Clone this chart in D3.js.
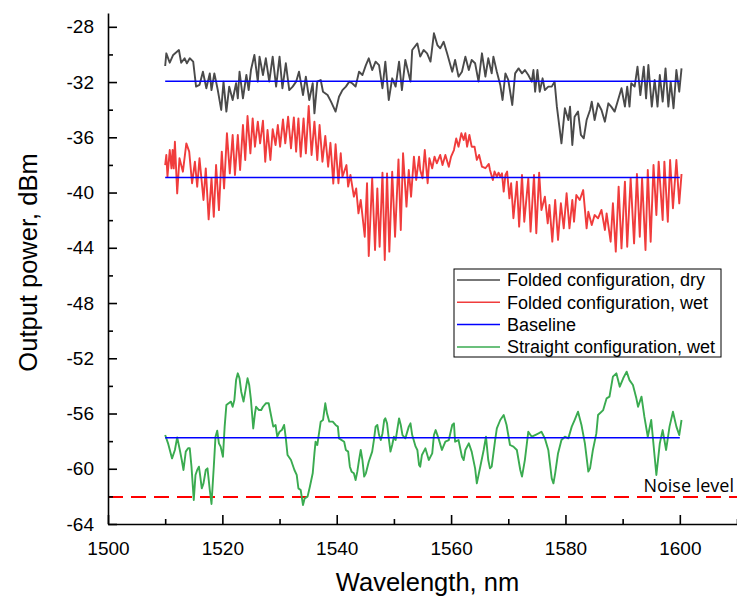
<!DOCTYPE html>
<html>
<head>
<meta charset="utf-8">
<script src="https://cdn.jsdelivr.net/npm/d3@7"></script>
<style>
  body { margin: 0; background: #fff; }
  svg { display: block; font-family: "Liberation Sans", Arial, sans-serif; }
  .axis path, .axis line { stroke: #000; stroke-width: 1.6; }
  .axis text { font-size: 19px; fill: #000; font-family: "Liberation Sans", Arial, sans-serif; }
  .axis-label { font-size: 25.5px; fill: #000; }
  .legend text { font-size: 18px; fill: #000; }
</style>
</head>
<body>
<svg id="chart"></svg>
<script>
// wavelength (nm), output power (dBm)
const foldedDry = [
  [1510.0,-30.84],[1510.2,-29.92],[1510.8,-30.60],[1511.4,-30.04],[1512.4,-29.68],[1512.8,-30.60],[1513.4,-30.28],[1513.8,-30.64],
  [1514.3,-30.28],[1514.9,-30.52],[1515.4,-32.33],[1516.0,-32.21],[1516.6,-31.25],[1517.2,-32.45],[1517.8,-31.37],[1518.1,-32.58],
  [1518.6,-31.37],[1519.2,-32.58],[1519.8,-34.02],[1520.2,-31.97],[1520.7,-34.14],[1521.2,-32.33],[1521.8,-33.30],[1522.4,-32.09],
  [1522.7,-33.18],[1523.0,-31.25],[1523.6,-33.18],[1524.2,-31.49],[1524.6,-32.58],[1525.0,-31.13],[1525.6,-30.04],[1526.2,-31.97],
  [1526.5,-30.16],[1527.1,-31.49],[1527.6,-30.28],[1528.2,-31.97],[1528.8,-30.16],[1529.4,-32.33],[1530.0,-30.16],[1530.5,-32.45],
  [1531.1,-30.64],[1531.7,-32.58],[1532.3,-32.33],[1532.9,-31.97],[1533.4,-31.25],[1534.1,-32.94],[1534.6,-31.61],[1535.2,-33.30],
  [1535.8,-32.09],[1536.1,-34.27],[1536.6,-31.97],[1537.2,-31.85],[1537.6,-32.70],[1538.4,-32.94],[1539.0,-33.42],[1539.8,-34.14],
  [1540.4,-33.06],[1541.0,-32.58],[1541.6,-32.33],[1542.2,-31.97],[1542.7,-32.09],[1543.3,-32.33],[1543.9,-31.25],[1544.5,-31.49],
  [1545.1,-30.77],[1545.6,-30.28],[1546.2,-31.13],[1546.8,-30.52],[1547.4,-30.77],[1548.0,-32.45],[1548.5,-30.52],[1549.1,-33.30],
  [1549.7,-31.73],[1550.3,-32.33],[1550.9,-30.52],[1551.4,-32.58],[1552.0,-30.40],[1552.9,-31.97],[1553.2,-29.68],[1554.1,-29.20],
  [1554.6,-30.16],[1555.2,-29.68],[1555.8,-29.92],[1556.4,-30.52],[1557.0,-28.47],[1557.6,-29.32],[1558.1,-29.56],[1558.7,-29.08],
  [1559.3,-29.92],[1560.2,-31.25],[1560.7,-30.40],[1561.3,-31.61],[1561.9,-31.25],[1562.5,-30.16],[1563.1,-31.13],[1563.6,-30.40],
  [1564.2,-30.64],[1564.8,-31.97],[1565.4,-29.92],[1566.0,-31.61],[1566.5,-30.28],[1567.1,-31.37],[1567.4,-30.16],[1568.0,-31.25],
  [1568.6,-32.21],[1569.0,-33.30],[1569.5,-31.37],[1570.0,-31.85],[1570.7,-33.66],[1571.2,-31.37],[1571.8,-31.01],[1572.4,-31.37],
  [1572.9,-31.13],[1573.5,-31.49],[1574.1,-31.97],[1574.4,-31.13],[1574.7,-32.70],[1575.1,-31.13],[1575.5,-32.70],[1576.0,-31.73],
  [1576.4,-32.58],[1577.0,-32.33],[1577.6,-32.33],[1578.1,-31.97],[1578.5,-33.78],[1579.3,-36.44],[1579.9,-33.90],[1580.5,-34.75],
  [1580.8,-33.78],[1581.2,-36.56],[1581.6,-34.51],[1582.2,-34.14],[1582.7,-35.83],[1583.2,-36.07],[1583.7,-34.75],[1584.3,-34.02],
  [1584.6,-33.42],[1585.1,-34.75],[1585.7,-33.54],[1586.3,-34.02],[1586.9,-34.87],[1587.5,-33.54],[1588.0,-33.78],[1588.6,-34.14],
  [1589.2,-33.30],[1589.8,-32.45],[1590.4,-33.78],[1590.8,-32.33],[1591.2,-33.78],[1591.5,-32.09],[1592.1,-32.33],[1592.6,-30.89],
  [1593.1,-32.94],[1593.7,-30.89],[1594.1,-33.18],[1594.5,-30.77],[1595.1,-33.78],[1595.6,-31.85],[1596.1,-33.78],[1596.5,-31.49],
  [1597.0,-33.42],[1597.5,-31.01],[1598.0,-33.78],[1598.4,-31.97],[1598.9,-33.90],[1599.4,-31.13],[1599.9,-32.70],[1600.3,-31.01]
]
const foldedWet = [
  [1510.0,-38.01],[1510.2,-37.28],[1510.4,-38.85],[1510.8,-36.92],[1511.1,-38.25],[1511.3,-36.92],[1511.5,-38.25],[1511.7,-36.32],
  [1512.1,-40.06],[1512.5,-37.52],[1513.1,-38.49],[1513.7,-36.44],[1514.2,-37.04],[1514.7,-39.33],[1515.2,-37.77],[1515.6,-39.58],
  [1516.0,-37.52],[1516.7,-40.54],[1517.1,-38.25],[1517.6,-41.94],[1518.1,-38.97],[1518.5,-41.75],[1518.9,-38.01],[1519.4,-41.27],
  [1519.9,-37.04],[1520.3,-39.70],[1520.8,-35.71],[1521.3,-38.61],[1521.8,-35.83],[1522.2,-38.73],[1522.7,-35.83],[1523.1,-38.37],
  [1523.6,-35.11],[1524.0,-37.64],[1524.4,-34.46],[1524.9,-37.16],[1525.3,-34.63],[1525.7,-36.68],[1526.2,-34.87],[1526.6,-36.44],
  [1527.1,-34.80],[1527.5,-37.77],[1527.9,-35.47],[1528.4,-37.64],[1528.8,-35.42],[1529.3,-36.56],[1529.7,-35.11],[1530.1,-36.68],
  [1530.6,-34.70],[1531.0,-36.44],[1531.5,-34.51],[1532.0,-36.80],[1532.5,-34.56],[1532.9,-37.04],[1533.3,-34.63],[1533.7,-37.40],
  [1534.2,-34.63],[1534.6,-37.16],[1535.1,-33.73],[1535.6,-37.28],[1536.1,-34.87],[1536.6,-37.64],[1537.0,-35.11],[1537.5,-37.77],
  [1538.0,-35.90],[1538.5,-38.13],[1538.9,-36.40],[1539.4,-39.35],[1539.8,-36.50],[1540.3,-39.33],[1540.7,-37.16],[1541.0,-38.85],
  [1541.7,-38.01],[1542.0,-39.57],[1542.4,-38.73],[1543.0,-40.30],[1543.4,-39.70],[1543.8,-41.51],[1544.2,-40.54],[1544.9,-43.20],
  [1545.3,-39.33],[1545.6,-44.60],[1546.2,-38.97],[1546.7,-44.16],[1547.1,-39.70],[1547.5,-43.92],[1548.0,-38.56],[1548.4,-44.89],
  [1548.8,-38.61],[1549.2,-44.28],[1549.7,-38.49],[1550.2,-43.20],[1550.8,-37.60],[1551.2,-42.71],[1551.6,-37.16],[1552.2,-41.02],
  [1552.6,-38.37],[1553.0,-40.30],[1553.5,-37.40],[1553.9,-39.09],[1554.4,-37.40],[1554.6,-38.37],[1555.0,-38.97],[1555.4,-36.92],
  [1555.9,-39.33],[1556.2,-37.52],[1556.7,-38.25],[1557.1,-37.40],[1557.5,-37.88],[1558.1,-37.28],[1558.5,-38.01],[1559.0,-37.28],
  [1559.6,-38.13],[1560.0,-37.40],[1560.5,-36.92],[1560.9,-36.08],[1561.3,-36.68],[1561.8,-35.71],[1562.2,-36.20],[1562.5,-35.71],
  [1562.8,-36.68],[1563.2,-35.83],[1563.6,-36.68],[1564.1,-36.68],[1564.5,-37.64],[1564.9,-37.28],[1565.4,-38.13],[1566.0,-38.24],
  [1566.6,-37.93],[1566.8,-38.36],[1567.3,-39.09],[1567.6,-38.48],[1568.0,-38.85],[1568.3,-38.56],[1568.6,-38.85],[1568.9,-38.61],
  [1569.2,-39.93],[1569.5,-38.73],[1569.8,-38.48],[1570.2,-40.42],[1570.5,-39.33],[1570.9,-41.86],[1571.5,-39.21],[1571.9,-42.47],
  [1572.4,-38.73],[1572.8,-42.11],[1573.5,-38.97],[1573.9,-42.83],[1574.5,-38.73],[1574.9,-42.95],[1575.4,-38.56],[1575.8,-41.26],
  [1576.4,-40.30],[1576.9,-42.23],[1577.2,-40.90],[1577.7,-43.55],[1578.2,-40.54],[1578.7,-43.43],[1579.2,-40.78],[1579.7,-42.59],
  [1580.2,-40.05],[1580.7,-42.59],[1581.2,-40.54],[1581.5,-42.11],[1581.9,-40.18],[1582.5,-40.54],[1583.1,-39.82],[1583.7,-42.59],
  [1584.0,-41.39],[1584.6,-42.35],[1585.1,-41.63],[1585.7,-41.87],[1586.3,-41.26],[1586.9,-42.71],[1587.2,-41.51],[1587.9,-43.56],
  [1588.3,-40.78],[1588.8,-44.28],[1589.3,-39.57],[1589.8,-44.04],[1590.4,-39.21],[1590.8,-43.92],[1591.4,-38.97],[1592.0,-43.68],
  [1592.5,-38.66],[1593.0,-43.20],[1593.4,-38.97],[1594.0,-44.16],[1594.4,-38.37],[1594.9,-43.56],[1595.4,-38.01],[1595.9,-41.63],
  [1596.3,-37.76],[1597.0,-41.99],[1597.3,-37.76],[1597.9,-42.11],[1598.3,-37.64],[1598.8,-41.14],[1599.4,-37.64],[1599.9,-40.78],
  [1600.3,-38.66]
]
const straightWet = [
  [1510.0,-57.56],[1510.5,-58.16],[1511.2,-59.25],[1511.7,-58.64],[1512.1,-57.73],[1512.5,-58.52],[1512.9,-59.37],[1513.2,-60.09],
  [1513.6,-58.76],[1514.0,-58.52],[1514.3,-58.52],[1514.6,-59.85],[1515.0,-62.26],[1515.3,-60.45],[1515.6,-60.09],[1515.9,-59.85],
  [1516.1,-60.45],[1516.4,-61.42],[1516.7,-61.06],[1517.1,-60.09],[1517.4,-59.97],[1517.8,-61.54],[1518.1,-62.55],[1518.5,-59.85],
  [1518.8,-57.68],[1519.1,-57.24],[1519.4,-58.16],[1519.7,-58.40],[1520.1,-59.13],[1520.4,-56.95],[1520.7,-55.39],[1521.1,-55.26],
  [1521.5,-55.14],[1521.8,-55.51],[1522.1,-55.02],[1522.4,-53.58],[1522.7,-53.09],[1523.0,-53.45],[1523.3,-54.42],[1523.7,-55.14],
  [1524.2,-53.94],[1524.4,-53.45],[1524.7,-53.94],[1525.0,-55.02],[1525.4,-57.08],[1525.7,-55.99],[1525.9,-55.51],[1526.4,-55.75],
  [1526.8,-55.75],[1527.1,-55.51],[1527.6,-55.26],[1528.1,-55.26],[1528.5,-56.11],[1528.9,-56.95],[1529.3,-56.83],[1529.6,-57.68],
  [1530.0,-57.32],[1530.4,-57.20],[1530.8,-56.83],[1531.1,-57.80],[1531.4,-59.01],[1532.0,-59.37],[1532.6,-60.09],[1533.0,-60.45],
  [1533.3,-61.42],[1533.7,-61.54],[1534.1,-62.63],[1534.4,-62.14],[1534.9,-62.02],[1535.3,-61.30],[1535.8,-60.33],[1536.1,-58.89],
  [1536.3,-58.04],[1536.6,-58.28],[1536.9,-57.44],[1537.2,-56.59],[1537.6,-56.47],[1538.0,-55.26],[1538.3,-55.99],[1538.7,-56.59],
  [1539.3,-56.59],[1539.8,-56.83],[1540.2,-56.95],[1540.4,-57.80],[1541.3,-58.04],[1541.6,-58.64],[1542.0,-58.76],[1542.3,-59.85],
  [1542.6,-60.21],[1543.0,-60.33],[1543.3,-60.82],[1543.6,-60.21],[1543.9,-59.37],[1544.2,-58.64],[1544.5,-59.37],[1544.8,-60.57],
  [1545.1,-60.33],[1545.6,-59.49],[1546.2,-58.76],[1546.5,-57.92],[1546.8,-56.95],[1547.1,-56.83],[1547.4,-57.56],[1547.7,-57.92],
  [1548.0,-57.44],[1548.3,-56.47],[1548.5,-56.35],[1548.8,-56.71],[1549.1,-57.80],[1549.4,-58.76],[1549.7,-58.28],[1550.0,-57.68],
  [1550.3,-57.92],[1550.9,-56.35],[1551.2,-56.83],[1551.5,-57.56],[1552.0,-57.80],[1552.6,-56.95],[1552.9,-56.71],[1553.2,-57.56],
  [1553.8,-58.40],[1554.1,-58.64],[1554.4,-59.73],[1554.6,-59.85],[1554.9,-59.00],[1555.5,-58.52],[1556.1,-59.37],[1556.7,-58.89],
  [1557.0,-57.56],[1557.3,-57.20],[1557.8,-57.80],[1558.4,-58.64],[1559.0,-58.04],[1559.6,-57.92],[1560.2,-56.83],[1560.5,-56.71],
  [1560.7,-58.04],[1561.3,-57.92],[1561.9,-59.13],[1562.2,-59.37],[1562.5,-58.64],[1563.1,-58.16],[1563.6,-58.76],[1564.2,-59.97],
  [1564.5,-61.06],[1565.1,-59.85],[1565.7,-58.64],[1566.1,-57.68],[1566.5,-59.37],[1566.8,-59.97],[1567.1,-59.85],[1567.7,-57.92],
  [1568.0,-57.08],[1568.6,-56.47],[1569.2,-56.11],[1569.7,-56.83],[1570.3,-58.28],[1570.9,-58.40],[1571.5,-58.64],[1572.1,-60.09],
  [1572.4,-60.57],[1572.9,-59.37],[1573.5,-57.32],[1574.1,-57.68],[1574.7,-57.56],[1575.3,-57.44],[1575.8,-57.32],[1576.4,-57.80],
  [1577.0,-58.64],[1577.6,-60.70],[1577.9,-61.06],[1578.2,-60.33],[1578.7,-58.89],[1579.3,-57.92],[1579.9,-57.68],[1580.5,-57.80],
  [1581.1,-56.95],[1581.6,-56.47],[1582.2,-55.87],[1582.8,-56.83],[1583.4,-58.16],[1584.0,-60.21],[1584.3,-59.97],[1584.8,-58.64],
  [1585.4,-57.44],[1585.7,-56.11],[1586.6,-55.75],[1587.2,-54.90],[1587.7,-54.78],[1588.3,-53.33],[1588.9,-53.09],[1589.5,-54.06],
  [1590.1,-53.45],[1590.7,-52.97],[1591.2,-53.58],[1591.8,-53.94],[1592.4,-54.90],[1592.7,-55.51],[1593.3,-54.78],[1593.8,-56.23],
  [1594.4,-57.68],[1595.0,-56.47],[1595.6,-59.13],[1595.9,-60.45],[1596.5,-58.16],[1597.0,-57.20],[1597.6,-58.64],[1598.2,-56.95],
  [1598.8,-55.87],[1599.4,-56.95],[1599.9,-57.56],[1600.3,-56.47]
]
// horizontal reference levels, dBm
const baselineLevels = [-31.95, -38.92, -57.75]
const baselineSpan = [1510, 1600]
const noiseLevel = -62.05

const xTicks = d3.range(1500, 1601, 20)
const xMinorTicks = d3.range(1510, 1611, 20)
const yTicks = d3.range(-64, -27, 4)
const yMinorTicks = d3.range(-62, -28, 4)

const legendItems = [
  { label: 'Folded configuration, dry', color: '#4a4a4a' },
  { label: 'Folded configuration, wet', color: '#f03c3c' },
  { label: 'Baseline', color: '#0000ff' },
  { label: 'Straight configuration, wet', color: '#3aab50' }
]

const width = 737
    , height = 597
    , plotLeft = 108
    , plotRight = 737
    , plotTop = 13
    , plotBottom = 524
    , scaleX = d3.scaleLinear().domain([1500, 1610]).range([plotLeft, plotRight])
    , scaleY = d3.scaleLinear().domain([-64, -27]).range([plotBottom, plotTop])
    , line = d3.line().x(d => scaleX(d[0])).y(d => scaleY(d[1]))

const svg = d3.select('#chart').attr('width', width).attr('height', height)

// noise level
svg.append('line')
    .attr('x1', plotLeft).attr('x2', plotRight)
    .attr('y1', scaleY(noiseLevel)).attr('y2', scaleY(noiseLevel))
    .attr('stroke', '#ff0000').attr('stroke-width', 2)
    .attr('stroke-dasharray', '15,8')
svg.append('text')
    .attr('x', 734).attr('y', scaleY(noiseLevel) - 5)
    .attr('text-anchor', 'end')
    .style('font-family', '"Open Sans", sans-serif')
    .style('font-size', '18px')
    .text('Noise level')

// series
const series = [foldedDry, foldedWet, straightWet]
const seriesColors = [legendItems[0].color, legendItems[1].color, legendItems[3].color]
series.forEach((s, i) => {
    svg.append('path')
        .datum(s)
        .attr('d', line)
        .attr('fill', 'none')
        .attr('stroke', seriesColors[i])
        .attr('stroke-width', 1.9)
        .attr('stroke-linejoin', 'round')
})

// baselines
svg.selectAll('line.baseline')
    .data(baselineLevels)
    .join('line')
    .attr('class', 'baseline')
    .attr('x1', scaleX(baselineSpan[0])).attr('x2', scaleX(baselineSpan[1]))
    .attr('y1', scaleY).attr('y2', scaleY)
    .attr('stroke', '#0000ff').attr('stroke-width', 1.5)

// axes
svg.append('g')
    .attr('class', 'axis x')
    .attr('transform', `translate(0,${plotBottom})`)
    .call(d3.axisBottom(scaleX).tickValues(xTicks).tickSize(-9).tickSizeOuter(0).tickPadding(18).tickFormat(d3.format('d')))
svg.append('g')
    .attr('class', 'axis x minor')
    .attr('transform', `translate(0,${plotBottom})`)
    .call(d3.axisBottom(scaleX).tickValues(xMinorTicks).tickSize(-5).tickFormat(''))
    .call(g => g.select('.domain').remove())
svg.append('g')
    .attr('class', 'axis y')
    .attr('transform', `translate(${plotLeft},0)`)
    .call(d3.axisLeft(scaleY).tickValues(yTicks).tickSize(-9).tickSizeOuter(0).tickPadding(14).tickFormat(d => String(d)))
svg.append('g')
    .attr('class', 'axis y minor')
    .attr('transform', `translate(${plotLeft},0)`)
    .call(d3.axisLeft(scaleY).tickValues(yMinorTicks).tickSize(-5).tickFormat(''))
    .call(g => g.select('.domain').remove())

svg.append('text')
    .attr('class', 'axis-label')
    .attr('text-anchor', 'middle')
    .attr('transform', `translate(${(plotLeft + plotRight) / 2 + 5},591)`)
    .text('Wavelength, nm')
svg.append('text')
    .attr('class', 'axis-label')
    .attr('text-anchor', 'middle')
    .attr('transform', `translate(37,${(plotTop + plotBottom) / 2 - 6}) rotate(-90)`)
    .text('Output power, dBm')

// legend
const legend = svg.append('g').attr('class', 'legend').attr('transform', 'translate(454,269)')
legend.append('rect')
    .attr('width', 267).attr('height', 88)
    .attr('fill', '#fff').attr('stroke', '#000').attr('stroke-width', 1)
const rows = legend.selectAll('g.row')
    .data(legendItems)
    .join('g')
    .attr('class', 'row')
    .attr('transform', (d, i) => `translate(0,${11 + i * 22.3})`)
rows.append('line')
    .attr('x1', 3).attr('x2', 46)
    .attr('stroke', d => d.color).attr('stroke-width', 1.5)
rows.append('text')
    .attr('x', 53).attr('dy', '0.35em')
    .text(d => d.label)
</script>
</body>
</html>
